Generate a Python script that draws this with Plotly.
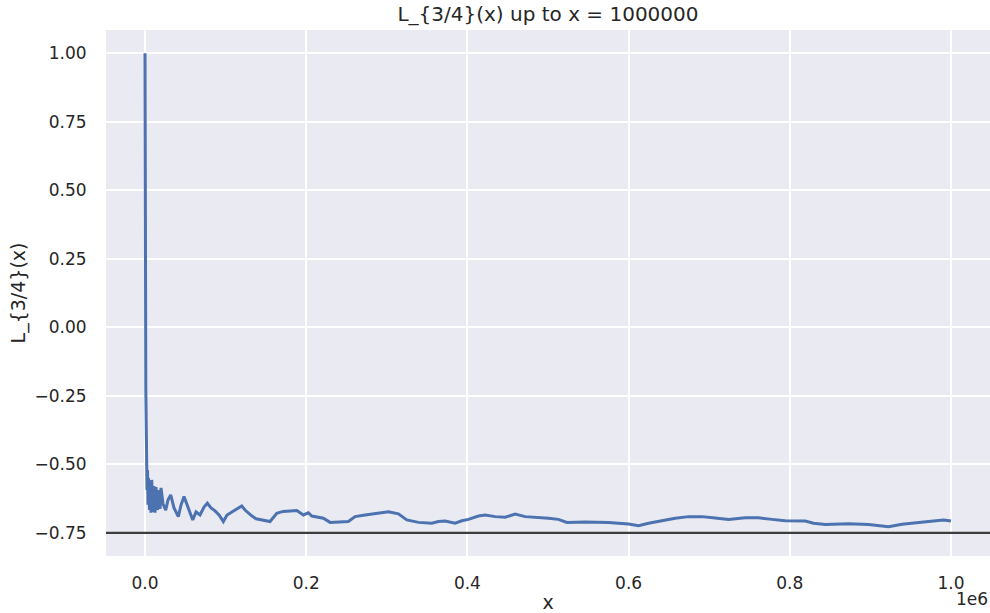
import plotly.graph_objects as go

# ---- data ----
x_values = [
    1, 50, 200, 600, 1000, 1300, 1600, 1860, 2480, 3100, 3720, 4340, 5590,
    6210, 7450, 8320, 9930, 11170, 12410, 13650, 15520, 16760, 18620, 19860,
    22340, 25690, 28550, 31900, 36000, 41330, 44680, 48410, 52130, 55850,
    59200, 63300, 68270, 73230, 77330, 81920, 86880, 91850, 97190, 101780,
    107990, 114190, 120020, 124120, 127840, 132810, 137770, 144850, 155150,
    163470, 171290, 188290, 196480, 202690, 206910, 221310, 229620, 252340,
    260650, 273060, 285480, 301980, 314400, 324820, 339220, 355850, 364050,
    372350, 384760, 393080, 401270, 413680, 422000, 434420, 446830, 459240,
    471660, 484070, 500570, 512990, 523400, 546120, 575040, 599870, 612280,
    624690, 641320, 657830, 674340, 690970, 707470, 723980, 744710, 761220,
    777850, 794370, 819190, 829490, 844010, 872930, 897750, 922570, 939200,
    955720, 972210, 990830, 1000000,
]
y_values = [
    1.0, 0.30, 0.0, -0.12, -0.23, -0.30, -0.38, -0.492, -0.594, -0.521, -0.648,
    -0.550, -0.667, -0.565, -0.677, -0.557, -0.674, -0.579, -0.677, -0.583,
    -0.667, -0.594, -0.663, -0.586, -0.645, -0.667, -0.630, -0.612, -0.659,
    -0.691, -0.649, -0.618, -0.649, -0.674, -0.703, -0.674, -0.685, -0.656,
    -0.642, -0.659, -0.670, -0.685, -0.709, -0.685, -0.674, -0.663, -0.652,
    -0.667, -0.677, -0.689, -0.699, -0.703, -0.709, -0.679, -0.672, -0.669,
    -0.685, -0.677, -0.689, -0.697, -0.712, -0.709, -0.691, -0.685, -0.679,
    -0.673, -0.681, -0.703, -0.712, -0.715, -0.709, -0.707, -0.715, -0.706,
    -0.701, -0.689, -0.685, -0.691, -0.693, -0.682, -0.691, -0.693, -0.697,
    -0.701, -0.712, -0.711, -0.712, -0.718, -0.724, -0.715, -0.706, -0.697,
    -0.691, -0.691, -0.696, -0.701, -0.695, -0.695, -0.701, -0.706, -0.707,
    -0.715, -0.720, -0.717, -0.720, -0.728, -0.719, -0.713, -0.709, -0.703,
    -0.707,
]
reference_level = -0.75

x_tick_values = [0, 200000, 400000, 600000, 800000, 1000000]
x_tick_labels = ["0.0", "0.2", "0.4", "0.6", "0.8", "1.0"]
y_tick_values = [-0.75, -0.5, -0.25, 0.0, 0.25, 0.5, 0.75, 1.0]
y_tick_labels = ["\u22120.75", "\u22120.50", "\u22120.25", "0.00", "0.25", "0.50", "0.75", "1.00"]

title_text = "L_{3/4}(x) up to x = 1000000"
x_title = "x"
y_title = "L_{3/4}(x)"
offset_text = "1e6"

FONT = "DejaVu Sans"
TEXT_COLOR = "#262626"

fig = go.Figure()
fig.add_trace(go.Scatter(
    x=x_values, y=y_values, mode="lines",
    line=dict(color="#4C72B0", width=3),
    showlegend=False,
))
fig.add_shape(
    type="line", xref="paper", yref="y", x0=0, x1=1,
    y0=reference_level, y1=reference_level,
    line=dict(color="#3d3d3d", width=2.2),
)

fig.update_layout(
    width=990, height=613,
    margin=dict(l=106, r=0, t=30, b=57, autoexpand=False),
    paper_bgcolor="white",
    plot_bgcolor="#EAEAF2",
    font=dict(family=FONT, color=TEXT_COLOR, size=17),
    title=dict(text=title_text, x=0.5535, xanchor="center", y=1 - 14 / 613,
               yanchor="middle", font=dict(size=20, color=TEXT_COLOR)),
    annotations=[dict(
        text=offset_text, xref="paper", yref="paper", x=1.0, y=-0.082,
        xanchor="right", yanchor="middle", showarrow=False,
        font=dict(size=17, color=TEXT_COLOR),
    )],
)
fig.update_xaxes(
    range=[-48400, 1048400],
    tickvals=x_tick_values, ticktext=x_tick_labels,
    showgrid=True, gridcolor="white", gridwidth=1.5,
    zeroline=False, showline=False, automargin=False,
    ticks="outside", ticklen=12, tickcolor="rgba(0,0,0,0)",
    tickfont=dict(size=17, color=TEXT_COLOR),
    title=dict(text=x_title, standoff=3, font=dict(size=19, color=TEXT_COLOR)),
)
fig.update_yaxes(
    range=[-0.8347, 1.085],
    tickvals=y_tick_values, ticktext=y_tick_labels,
    showgrid=True, gridcolor="white", gridwidth=1.5,
    zeroline=False, showline=False, automargin=False,
    ticks="outside", ticklen=15, tickcolor="rgba(0,0,0,0)",
    tickfont=dict(size=17, color=TEXT_COLOR),
    title=dict(text=y_title, standoff=3, font=dict(size=19, color=TEXT_COLOR)),
)

fig.write_html("out.html", config={"displayModeBar": False},
               post_script="document.body.style.margin='0';")
